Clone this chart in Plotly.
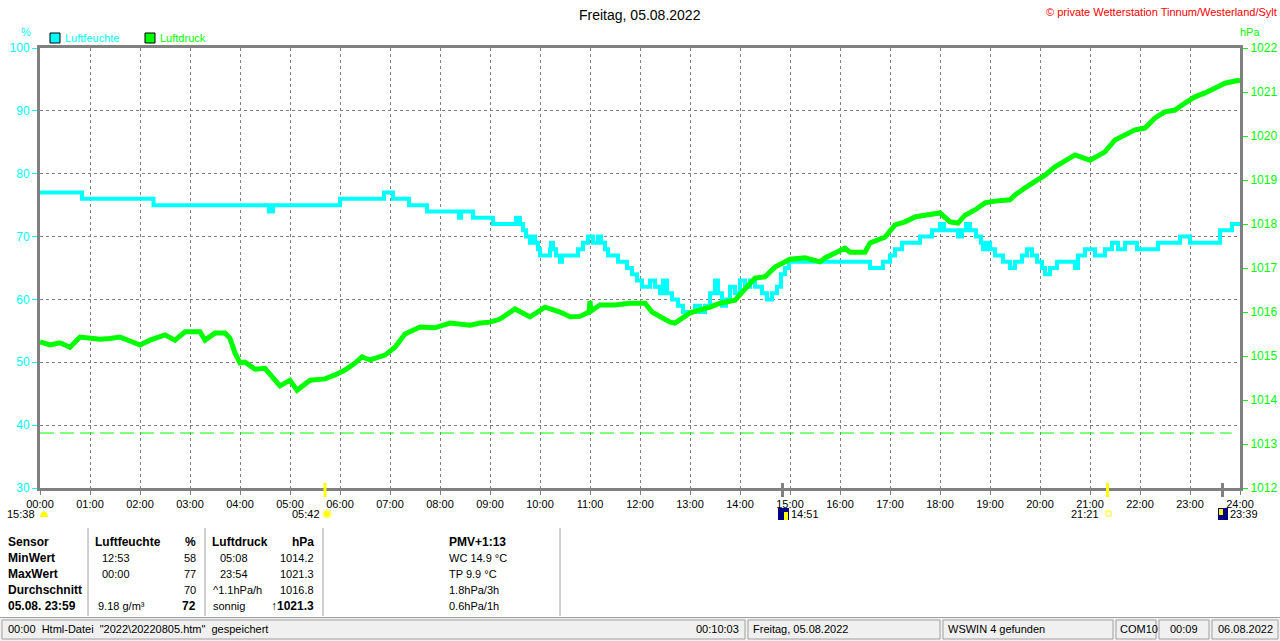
import plotly.graph_objects as go

# ---- data ----
hour_labels = ['%02d:00' % h for h in range(25)]

# Luftfeuchte (%), step data: time of change (h) and value
hum_t = [0.0, 0.84, 2.27, 4.58, 4.66, 6.0, 6.88, 7.06, 7.38, 7.74, 8.38, 8.42, 8.66, 9.06,
         9.52, 9.6, 9.66, 9.72, 9.8, 9.86, 9.9, 9.96, 10.0, 10.2, 10.22, 10.26, 10.32, 10.4, 10.44,
         10.76, 10.86, 10.96, 11.06, 11.16, 11.22, 11.3, 11.36, 11.5, 11.56, 11.74, 11.84, 11.94,
         12.04, 12.2, 12.3, 12.4, 12.46, 12.54, 12.64, 12.76, 12.86, 13.0, 13.1, 13.2, 13.3, 13.4,
         13.5, 13.56, 13.64, 13.72, 13.8, 13.9, 14.0, 14.1, 14.2, 14.3, 14.44, 14.54, 14.64, 14.74,
         14.82, 14.9, 14.98, 16.6, 16.86, 17.0, 17.1, 17.24, 17.6, 17.84, 18.0, 18.08, 18.36, 18.44,
         18.52, 18.6, 18.72, 18.82, 18.86, 18.92, 19.0, 19.1, 19.26, 19.4, 19.5, 19.64, 19.74,
         19.84, 19.94, 20.04, 20.1, 20.2, 20.34, 20.7, 20.76, 20.9, 21.1, 21.3, 21.44, 21.56, 21.7,
         21.94, 22.36, 22.8, 23.0, 23.6, 23.84, 24.0]
hum_v = [77, 76, 75, 74, 75, 76, 77, 76, 75, 74, 73, 74, 73, 72,
         73, 72, 71, 70, 69, 70, 69, 68, 67, 68, 69, 68, 67, 66, 67,
         68, 69, 70, 69, 70, 69, 68, 67, 67, 66, 65, 64, 63,
         62, 63, 62, 61, 63, 61, 60, 59, 58, 58, 59, 58, 59, 61,
         63, 61, 59, 60, 62, 61, 63, 62, 63, 62, 61, 60, 61, 62,
         64, 65, 66, 65, 66, 67, 68, 69, 70, 71, 72, 71, 70, 71,
         72, 71, 70, 69, 68, 69, 68, 67, 66, 65, 66, 67, 68,
         67, 66, 65, 64, 65, 66, 65, 67, 68, 67, 68, 69, 68, 69,
         68, 69, 70, 69, 71, 72, 72]

# Luftdruck (hPa)
pres_t = [0.0, 0.2, 0.4, 0.6, 0.8, 1.0, 1.2, 1.4, 1.6, 1.8, 2.0, 2.2, 2.5, 2.7, 2.9, 3.2, 3.3,
          3.5, 3.7, 3.8, 3.9, 4.0, 4.1, 4.3, 4.5, 4.7, 4.8, 5.0, 5.14, 5.4, 5.7, 5.9, 6.1, 6.3,
          6.44, 6.6, 6.9, 7.1, 7.3, 7.6, 7.9, 8.2, 8.6, 8.8, 9.0, 9.2, 9.4, 9.5, 9.8, 10.0, 10.1,
          10.4, 10.6, 10.8, 10.98, 11.0, 11.02, 11.2, 11.5, 11.8, 12.1, 12.24, 12.4, 12.6, 12.7,
          12.86, 13.0, 13.2, 13.4, 13.6, 13.9, 14.1, 14.3, 14.5, 14.7, 15.0, 15.3, 15.6, 15.7,
          16.1, 16.2, 16.5, 16.6, 16.9, 17.1, 17.3, 17.5, 17.7, 18.0, 18.2, 18.36, 18.5, 18.7,
          18.9, 19.1, 19.4, 19.5, 19.7, 19.9, 20.1, 20.3, 20.5, 20.7, 21.0, 21.3, 21.5, 21.7,
          21.9, 22.1, 22.3, 22.5, 22.7, 22.9, 23.1, 23.3, 23.5, 23.7, 23.9, 24.0]
pres_v = [1015.32, 1015.25, 1015.3, 1015.2, 1015.43, 1015.4, 1015.38, 1015.4, 1015.43, 1015.34,
          1015.25, 1015.36, 1015.48, 1015.36, 1015.55, 1015.55, 1015.36, 1015.52, 1015.52, 1015.4,
          1015.07, 1014.84, 1014.86, 1014.7, 1014.72, 1014.45, 1014.32, 1014.45, 1014.22, 1014.45,
          1014.48, 1014.57, 1014.68, 1014.84, 1014.98, 1014.91, 1015.02, 1015.2, 1015.5, 1015.66,
          1015.64, 1015.75, 1015.7, 1015.75, 1015.77, 1015.84, 1015.98, 1016.07, 1015.89, 1016.05,
          1016.11, 1016.0, 1015.89, 1015.9, 1016.0, 1016.25, 1016.02, 1016.16, 1016.16, 1016.2,
          1016.2, 1016.0, 1015.89, 1015.77, 1015.75, 1015.89, 1015.98, 1016.05, 1016.11, 1016.2,
          1016.27, 1016.52, 1016.77, 1016.8, 1017.02, 1017.2, 1017.23, 1017.14, 1017.23, 1017.45,
          1017.36, 1017.36, 1017.57, 1017.7, 1017.98, 1018.05, 1018.16, 1018.2, 1018.25, 1018.05,
          1018.02, 1018.2, 1018.32, 1018.48, 1018.52, 1018.55, 1018.66, 1018.82, 1018.95, 1019.11,
          1019.3, 1019.43, 1019.57, 1019.45, 1019.64, 1019.91, 1020.02, 1020.14, 1020.18, 1020.41,
          1020.55, 1020.59, 1020.75, 1020.89, 1020.98, 1021.09, 1021.2, 1021.25, 1021.27]

ref_pressure = 1013.25

# sun / moon events (h)
sunrise, sunset = 5 + 42 / 60, 21 + 21 / 60
moonrise, moonset = 14 + 51 / 60, 23 + 39 / 60

# table below chart
tab_sensor = ['Sensor', 'MinWert', 'MaxWert', 'Durchschnitt', '05.08. 23:59']
tab_hum_time = ['12:53', '00:00', '', '9.18 g/m³']
tab_hum_val = ['%', '58', '77', '70', '72']
tab_pres_left = ['05:08', '23:54', '^1.1hPa/h', 'sonnig']
tab_pres_val = ['hPa', '1014.2', '1021.3', '1016.8', '↑1021.3']
tab_extra = ['PMV+1:13', 'WC 14.9 °C', 'TP 9.9 °C', '1.8hPa/3h', '0.6hPa/1h']

CYAN = '#00ffff'
GREEN = '#00ff00'
GRAY = '#808080'
FONT = 'Arial, Liberation Sans, sans-serif'

# pixel -> paper helpers (plot area 40..1240 x 48..488)
def px(x):
    return (x - 40) / 1200.0

def py(y):
    return (488 - y) / 440.0

fig = go.Figure()

fig.add_trace(go.Scatter(x=hum_t, y=hum_v, mode='lines', line=dict(color=CYAN, width=4, shape='hv'),
                         name='Luftfeuchte', yaxis='y'))
fig.add_trace(go.Scatter(x=pres_t, y=pres_v, mode='lines', line=dict(color=GREEN, width=5),
                         name='Luftdruck', yaxis='y2'))

shapes = []
annotations = []

def text(x, y, s, anchor='left', size=11, color='black', bold=False):
    if bold:
        s = '<b>' + s + '</b>'
    annotations.append(dict(xref='paper', yref='paper', x=px(x), y=py(y), text=s, showarrow=False,
                            xanchor=anchor, yanchor='middle', font=dict(family=FONT, size=size, color=color)))

def rect(x0, y0, x1, y1, fill=None, line=None, lw=1, layer='above'):
    shapes.append(dict(type='rect', xref='paper', yref='paper', x0=px(x0), x1=px(x1), y0=py(y0), y1=py(y1),
                       fillcolor=fill if fill else 'rgba(0,0,0,0)',
                       line=dict(color=line if line else 'rgba(0,0,0,0)', width=lw if line else 0), layer=layer))

def vline(x, y0, y1, color='#a0a0a0', width=1):
    shapes.append(dict(type='line', xref='paper', yref='paper', x0=px(x), x1=px(x), y0=py(y0), y1=py(y1),
                       line=dict(color=color, width=width)))

# reference pressure dashed line
shapes.append(dict(type='line', xref='paper', yref='y2', x0=0, x1=0.993, y0=ref_pressure, y1=ref_pressure,
                   line=dict(color=GREEN, width=1, dash='14px,6px')))

# sun/moon markers on the time axis
for t, c in [(sunrise, '#ffff00'), (sunset, '#ffff00'), (moonrise, GRAY), (moonset, GRAY)]:
    shapes.append(dict(type='line', xref='x', yref='paper', x0=t, x1=t, y0=py(483), y1=py(497),
                       line=dict(color=c, width=3)))

# title, copyright, axis units, legend
text(640, 15, 'Freitag, 05.08.2022', 'center', size=14)
text(1279, 12, '© private Wetterstation Tinnum/Westerland/Sylt', 'right', size=11, color='#ff0000')
text(26, 32, '%', 'center', color=CYAN)
text(1250, 32, 'hPa', 'center', color=GREEN)
rect(50, 33, 60, 43, fill=CYAN, line='black')
text(63, 38, 'Luftfeuchte', color=CYAN)
rect(145, 33, 155, 43, fill=GREEN, line='black')
text(158, 38, 'Luftdruck', color=GREEN)

# event times under the axis
text(37, 514, '15:38', 'right')
shapes.append(dict(type='path', xref='paper', yref='paper', fillcolor='#ffff00', line=dict(width=0),
                   path='M %f,%f L %f,%f L %f,%f L %f,%f L %f,%f Z' % (
                       px(40), py(517), px(41), py(513), px(44), py(511), px(47), py(513), px(48), py(517))))
text(322, 514, '05:42', 'right')
shapes.append(dict(type='circle', xref='paper', yref='paper', x0=px(323), x1=px(331), y0=py(510), y1=py(518),
                   fillcolor='#ffff00', line=dict(color='#ffffa0', width=2)))
rect(778, 508, 789, 520, fill='#000080')
rect(784, 512, 788, 520, fill='#ffff00')
text(789, 514, '14:51')
text(1101, 514, '21:21', 'right')
rect(1106, 511, 1111, 516, line='#ffff00', lw=1)
rect(1218, 508, 1228, 520, fill='#000080')
rect(1219, 509, 1223, 515, fill='#ffff00')
text(1228, 514, '23:39')

# table
for x in [88, 205, 323, 560]:
    vline(x, 528, 616)
rows = [542, 558, 574, 590, 606]
for i, y in enumerate(rows):
    text(6, y, tab_sensor[i], size=12, bold=True)
    bold_row = i in (0, 4)
    text(198, y, tab_hum_val[i], 'right', size=12 if bold_row else 11, bold=bold_row)
    text(316, y, tab_pres_val[i], 'right', size=12 if bold_row else 11, bold=bold_row)
    text(447, y, tab_extra[i], size=12 if i == 0 else 11, bold=(i == 0))
text(93, rows[0], 'Luftfeuchte', size=12, bold=True)
text(210, rows[0], 'Luftdruck', size=12, bold=True)
for i, y in enumerate(rows[1:]):
    text(100 if i < 3 else 96, y, tab_hum_time[i])
    text(218 if i < 2 else 211, y, tab_pres_left[i])

# status bar
rect(0, 617, 1280, 641, fill='#f0f0f0', layer='below')
shapes.append(dict(type='line', xref='paper', yref='paper', x0=px(0), x1=px(1280), y0=py(617.5), y1=py(617.5),
                   line=dict(color='#a0a0a0', width=1)))
for a, b in [(2, 745), (748, 940), (943, 1113), (1116, 1156), (1159, 1209), (1212, 1278)]:
    rect(a, 620, b, 639, line='#a0a0a0')
text(6, 629, '00:00  Html-Datei  "2022\\20220805.htm"  gespeichert')
text(741, 629, '00:10:03', 'right')
text(751, 629, 'Freitag, 05.08.2022')
text(946, 629, 'WSWIN 4 gefunden')
text(1118, 629, 'COM10')
text(1184, 629, '00:09', 'center')
text(1245, 629, '06.08.2022', 'center')

fig.update_layout(
    width=1280, height=641,
    margin=dict(l=40, r=40, t=48, b=153, autoexpand=False),
    paper_bgcolor='white', plot_bgcolor='white',
    showlegend=False,
    font=dict(family=FONT, size=11, color='black'),
    xaxis=dict(range=[0, 24], tickvals=list(range(25)), ticktext=hour_labels, automargin=False,
               showgrid=True, gridcolor=GRAY, griddash='3px,3px', gridwidth=1, zeroline=False,
               showline=True, linecolor=GRAY, linewidth=3, mirror=True,
               ticks='outside', ticklen=4, tickcolor=GRAY, tickfont=dict(size=11, color='black')),
    yaxis=dict(range=[30, 100], tickvals=list(range(30, 101, 10)), automargin=False,
               showgrid=True, gridcolor=GRAY, griddash='3px,3px', gridwidth=1, zeroline=False,
               showline=True, linecolor=GRAY, linewidth=3,
               ticks='outside', ticklen=5, tickcolor=CYAN, tickfont=dict(size=12, color=CYAN)),
    yaxis2=dict(range=[1012, 1022], tickvals=list(range(1012, 1023)), overlaying='y', side='right',
                automargin=False, showgrid=False, zeroline=False, showline=True, linecolor=GRAY, linewidth=3,
                ticks='outside', ticklen=5, tickcolor=GREEN, tickfont=dict(size=12, color=GREEN)),
    shapes=shapes,
    annotations=annotations,
)

# drop the default page margin so the 1280x641 figure fills the window
fig.write_html("out.html", config={'displayModeBar': False},
               post_script="document.body.style.margin='0px';document.body.style.overflow='hidden';")
